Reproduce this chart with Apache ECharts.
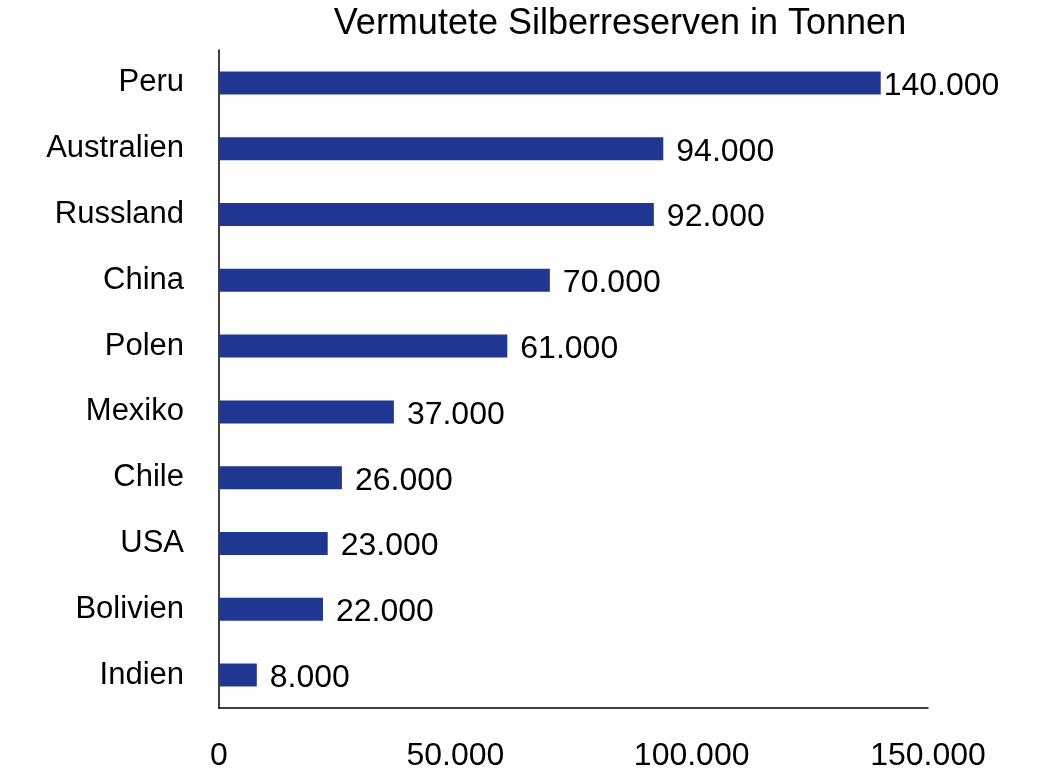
<!DOCTYPE html>
<html>
<head>
<meta charset="utf-8">
<script src="https://cdn.jsdelivr.net/npm/echarts@6/dist/echarts.min.js"></script>
<style>
  html, body { margin: 0; padding: 0; background: #fff; }
  #main { width: 1043px; height: 772px; }
</style>
</head>
<body>
<div id="main"></div>
<script>
// Daten
var countries = ['Peru', 'Australien', 'Russland', 'China', 'Polen', 'Mexiko', 'Chile', 'USA', 'Bolivien', 'Indien'];
var reserves = [140000, 94000, 92000, 70000, 61000, 37000, 26000, 23000, 22000, 8000];
var xTicks = [0, 50000, 100000, 150000];

function fmt(v) {
  // Tausenderpunkt
  return String(v).replace(/\B(?=(\d{3})+(?!\d))/g, '.');
}

// Peru-Beschriftung sitzt direkt am Balkenende
var barData = reserves.map(function (v, i) {
  return i === 0 ? { value: v, label: { distance: 3 } } : v;
});

var chart = echarts.init(document.getElementById('main'));
chart.setOption({
  animation: false,
  textStyle: { fontFamily: 'Liberation Sans, Arial, sans-serif' },
  title: {
    text: 'Vermutete Silberreserven in Tonnen',
    left: 615,
    textAlign: 'center',
    top: 1,
    textStyle: { fontSize: 36, fontWeight: 'normal', color: '#000' }
  },
  grid: { left: 219, right: 115, top: 50, bottom: 64, containLabel: false },
  xAxis: {
    type: 'value',
    min: xTicks[0],
    max: xTicks[xTicks.length - 1],
    interval: xTicks[1] - xTicks[0],
    axisLine: { show: true, lineStyle: { color: '#000', width: 1.5 } },
    axisTick: { show: false },
    splitLine: { show: false },
    axisLabel: {
      margin: 32,
      fontSize: 32,
      color: '#000',
      formatter: function (v) { return fmt(v); }
    }
  },
  yAxis: {
    type: 'category',
    inverse: true,
    data: countries,
    axisLine: { show: true, lineStyle: { color: '#000', width: 1.5 } },
    axisTick: { show: false },
    axisLabel: { margin: 35, fontSize: 31, color: '#000', padding: [6, 0, 0, 0] }
  },
  series: [{
    type: 'bar',
    data: barData,
    barWidth: 23,
    itemStyle: { color: '#1f3791' },
    label: {
      show: true,
      position: 'right',
      distance: 13,
      offset: [0, 3],
      fontSize: 32,
      color: '#000',
      formatter: function (p) { return fmt(p.value); }
    }
  }]
});
</script>
</body>
</html>
